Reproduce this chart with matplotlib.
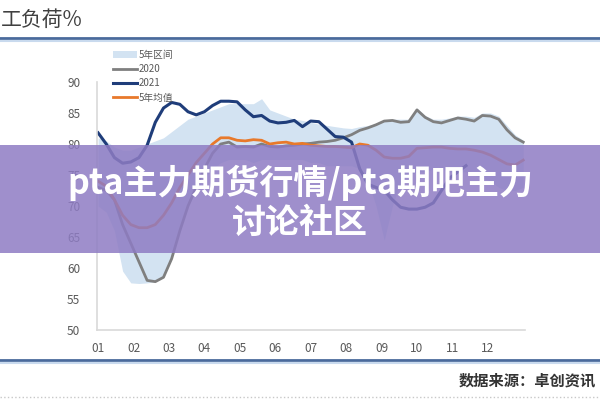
import matplotlib
matplotlib.use('Agg')
import matplotlib.pyplot as plt
import numpy as np

plt.rcParams['font.family'] = ['Noto Sans CJK SC', 'DejaVu Sans']

### data, read by week (1..53)
weeks = list(range(1, 54))

y2021 = [81.8, 80.0, 77.8, 76.9, 77.1, 77.8, 79.8, 83.5, 85.8, 86.7,
         86.4, 85.2, 84.7, 85.2, 86.2, 86.9, 86.9, 86.8, 85.5, 84.4,
         84.6, 83.7, 83.4, 83.5, 83.8, 82.8, 83.7, 83.6, 82.4, 81.2,
         81.1, 80.3, 76.0, 73.5, 73.0, 72.5, 71.0, 69.8, 69.5, 69.5,
         69.8, 70.5, 72.5, 74.5, 75.5, 76.5]

y2020 = [73.0, 72.5, 71.0, 67.0, 64.0, 61.0, 58.0, 57.8, 58.5, 61.5,
         66.0, 70.0, 73.0, 76.0, 78.5, 80.0, 80.3, 79.5, 79.6, 79.5,
         80.0, 79.6, 79.5, 79.7, 79.8, 80.0, 80.1, 80.3, 80.4, 80.6,
         81.0, 81.5, 82.2, 82.6, 83.1, 83.7, 83.8, 83.5, 83.6, 85.5,
         84.3, 83.6, 83.4, 83.8, 84.2, 84.0, 83.7, 84.6, 84.5, 84.0,
         82.3, 81.0, 80.3]

avg5 = [74.0, 73.2, 71.0, 68.5, 67.0, 66.5, 66.5, 67.0, 68.5, 70.5,
        73.0, 75.0, 77.0, 78.5, 80.0, 81.0, 81.0, 80.6, 80.5, 80.7,
        80.6, 80.0, 80.2, 80.3, 80.0, 80.1, 79.8, 79.7, 79.6, 79.6,
        79.5, 79.4, 80.0, 79.8, 79.0, 77.9, 77.7, 77.7, 78.0, 79.3,
        79.4, 79.5, 79.5, 79.3, 79.2, 79.2, 79.0, 78.7, 78.2, 77.5,
        76.8, 76.6, 77.4]

band_hi = [81.0, 80.5, 79.5, 79.0, 79.0, 79.5, 80.0, 80.5, 81.0, 82.0,
           83.0, 84.0, 84.5, 85.0, 85.5, 86.0, 86.5, 86.5, 86.5, 86.5,
           87.3, 85.5, 85.0, 84.5, 84.0, 83.8, 83.5, 83.2, 83.0, 82.8,
           82.6, 82.5, 82.8, 83.0, 83.3, 83.8, 84.0, 84.0, 84.0, 85.8,
           84.6, 84.0, 84.0, 84.2, 84.5, 84.5, 84.3, 85.0, 85.0, 84.5,
           83.0, 81.5, 80.6]

band_lo = [70.0, 69.0, 66.0, 59.5, 57.6, 57.5, 57.6, 57.8, 58.5, 61.5,
           66.0, 70.0, 72.5, 74.5, 76.0, 77.0, 77.5, 77.5, 77.5, 77.0,
           77.5, 77.5, 77.5, 77.5, 77.5, 77.5, 77.0, 77.0, 76.5, 76.5,
           76.5, 76.5, 76.0, 74.0, 70.0, 64.5, 70.0, 74.0, 75.0, 75.5,
           75.5, 76.0, 76.0, 75.5, 75.5, 75.5, 75.0, 74.5, 74.0, 73.0,
           72.5, 72.5, 73.0]

month_labels = ['01', '02', '03', '04', '05', '06', '07', '08', '09', '10', '11', '12']
yticks = [50, 55, 60, 65, 70, 75, 80, 85, 90]

# week number -> month position (1 = start of Jan, 13 = end of Dec)
xpos = 1 + (np.array(weeks) - 1) * 12 / 52.0

fig = plt.figure(figsize=(6, 4), dpi=100)
ax = fig.add_axes([0.1617, 0.175, 0.7133, 0.62])

ax.fill_between(xpos, band_lo, band_hi, color='#d3e3f2', linewidth=0, label='5年区间')
ax.plot(xpos, y2020, color='#7f7f7f', linewidth=2, label='2020')
ax.plot(xpos[:len(y2021)], y2021, color='#1f3d7a', linewidth=2.2, label='2021')
ax.plot(xpos, avg5, color='#e8792b', linewidth=2, label='5年均值')

ax.set_xlim(0.97, 13.05)
ax.set_ylim(50, 90)
ax.set_yticks(yticks)
ax.set_xticks(range(1, 13))
ax.set_xticklabels(month_labels)
ax.tick_params(axis='both', length=0, labelsize=8.5, colors='#595959')
ax.tick_params(axis='x', pad=9)
ax.tick_params(axis='y', pad=12)
for s in ['top', 'right']:
    ax.spines[s].set_visible(False)
for s in ['left', 'bottom']:
    ax.spines[s].set_color('#d9d9d9')
    ax.spines[s].set_linewidth(1.2)

leg = ax.legend(loc='upper left', bbox_to_anchor=(0.18, 0.888), bbox_transform=fig.transFigure,
                frameon=False, fontsize=7, handlelength=2.5, handletextpad=0.2,
                labelspacing=0.45, borderpad=0)
for t in leg.get_texts():
    t.set_color('#595959')

### header and footer
fig.text(0.002, 0.95, '工负荷%', fontsize=15, color='#404040', va='center', ha='left')
fig.add_artist(plt.Line2D([0, 1], [0.905, 0.905], color='#4a6a9c', linewidth=2, transform=fig.transFigure))
fig.add_artist(plt.Line2D([0, 1], [0.898, 0.898], color='#c9daee', linewidth=1.5, transform=fig.transFigure))
fig.add_artist(plt.Line2D([0, 1], [0.1, 0.1], color='#4a6a9c', linewidth=2, transform=fig.transFigure))
fig.add_artist(plt.Line2D([0, 1], [0.093, 0.093], color='#c9daee', linewidth=1.5, transform=fig.transFigure))
fig.add_artist(plt.Line2D([0, 1], [0.008, 0.008], color='#c8c8c8', linewidth=1, linestyle=':', transform=fig.transFigure))
fig.text(0.765, 0.048, '数据来源：卓创资讯', fontsize=11, fontweight='bold', color='#333333', va='center', ha='left')

### purple banner on top
fig.add_artist(plt.Rectangle((0, 0.3675), 1, 0.27, transform=fig.transFigure,
                             facecolor='#8e7cc3', alpha=0.85, edgecolor='none'))
fig.text(0.5, 0.5425, 'pta主力期货行情/pta期吧主力', fontsize=24.5, fontweight='heavy', color='white',
         ha='center', va='center')
fig.text(0.5, 0.445, '讨论社区', fontsize=24.5, fontweight='heavy', color='white',
         ha='center', va='center')

plt.savefig('out.png', dpi=100)
plt.close()
